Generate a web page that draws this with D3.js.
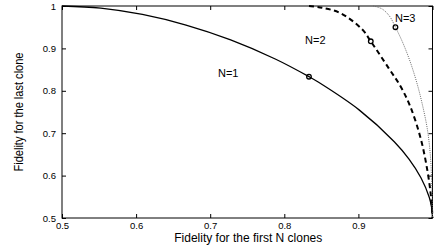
<!DOCTYPE html>
<meta charset="utf-8">
<style>
  body { margin: 0; background: #fff; }
  text { font-family: "Liberation Sans", Arial, sans-serif; fill: #000; }
</style>
<body>
<svg width="436" height="245"></svg>
<script src="https://d3js.org/d3.v7.min.js"></script>
<script>
  // values: [fidelity first N clones, fidelity last clone]
  var curveN1 = [[0.5, 1], [0.5523, 0.995], [0.6085, 0.98], [0.6674, 0.955], [0.7276, 0.92],
    [0.7878, 0.875], [0.8333, 0.8333], [0.8463, 0.82], [0.9009, 0.755], [0.9484, 0.68],
    [0.9683, 0.639], [0.9844, 0.595], [0.9956, 0.549], [0.9988, 0.525], [1, 0.5]];
  var curveN2 = [[0.8333, 1], [0.851, 0.996], [0.876, 0.983], [0.905, 0.945], [0.9167, 0.9167],
    [0.941, 0.853], [0.957, 0.81], [0.97, 0.763], [0.984, 0.688], [0.993, 0.613],
    [0.998, 0.55], [1, 0.5]];
  var curveN3 = [[0.92, 1], [0.932, 0.993], [0.942, 0.976], [0.95, 0.95], [0.96, 0.913],
    [0.97, 0.868], [0.979, 0.818], [0.986, 0.77], [0.993, 0.71], [0.997, 0.65],
    [0.999, 0.58], [1, 0.5]];
  var symPoints = [[0.8333, 0.8333], [0.9167, 0.9167], [0.95, 0.95]];
  var curveLabels = ['N=1', 'N=2', 'N=3'];
  var labelPos = [[0.7105, 0.832], [0.828, 0.91], [0.9494, 0.962]];
  var xTicks = [0.5, 0.6, 0.7, 0.8, 0.9, 1];
  var yTicks = [0.5, 0.6, 0.7, 0.8, 0.9, 1];

  var svg = d3.select('svg');
  // plot box (note: "top" is taken by window.top)
  var boxL = 62, boxR = 432.5, boxT = 6, boxB = 218;

  var x = d3.scaleLinear().domain([0.5, 1]).range([boxL, boxR]);
  var y = d3.scaleLinear().domain([0.5, 1]).range([boxB, boxT]);

  // axes, ticks pointing inwards on all four sides
  var fmt = function (d) { return d === 1 ? '1' : d3.format('.1f')(d); };
  var axFont = function (g) {
    g.select('.domain').remove();
    g.selectAll('line').attr('stroke', '#000');
    g.selectAll('text').style('font-size', '9.5px').style('font-family', '"Liberation Sans", Arial, sans-serif');
  };

  svg.append('g')
    .attr('transform', 'translate(0,' + boxB + ')')
    .call(d3.axisBottom(x).tickValues(xTicks.slice(0, 5)).tickSize(-4).tickPadding(4).tickFormat(fmt))
    .call(axFont);
  svg.append('g')
    .attr('transform', 'translate(0,' + boxT + ')')
    .call(d3.axisTop(x).tickValues(xTicks).tickSize(-4).tickFormat(''))
    .call(axFont);
  svg.append('g')
    .attr('transform', 'translate(' + boxL + ',0)')
    .call(d3.axisLeft(y).tickValues(yTicks).tickSize(-4).tickPadding(6).tickFormat(fmt))
    .call(axFont);
  svg.append('g')
    .attr('transform', 'translate(' + boxR + ',0)')
    .call(d3.axisRight(y).tickValues(yTicks).tickSize(-4).tickFormat(''))
    .call(axFont);

  svg.append('rect')
    .attr('x', boxL).attr('y', boxT)
    .attr('width', boxR - boxL).attr('height', boxB - boxT)
    .attr('fill', 'none')
    .attr('stroke', '#000')
    .attr('stroke-width', 1);

  // curves
  var line = d3.line()
    .curve(d3.curveCatmullRom.alpha(0.5))
    .x(function (d) { return x(d[0]); })
    .y(function (d) { return y(d[1]); });

  svg.append('path').datum(curveN1)
    .attr('d', line).attr('fill', 'none')
    .attr('stroke', '#000').attr('stroke-width', 1.3);
  svg.append('path').datum(curveN2)
    .attr('d', line).attr('fill', 'none')
    .attr('stroke', '#000').attr('stroke-width', 2)
    .attr('stroke-dasharray', '5,3.5');
  svg.append('path').datum(curveN3)
    .attr('d', line).attr('fill', 'none')
    .attr('stroke', '#666').attr('stroke-width', 1)
    .attr('stroke-dasharray', '1,1.2');

  svg.selectAll('.sym').data(symPoints).enter()
    .append('circle')
    .attr('cx', function (d) { return x(d[0]); })
    .attr('cy', function (d) { return y(d[1]); })
    .attr('r', 2.3)
    .attr('fill', 'none')
    .attr('stroke', '#000')
    .attr('stroke-width', 1.3);

  svg.selectAll('.lab').data(curveLabels).enter()
    .append('text')
    .attr('x', function (d, i) { return x(labelPos[i][0]); })
    .attr('y', function (d, i) { return y(labelPos[i][1]); })
    .style('font-size', '11px')
    .text(function (d) { return d; });

  // axis titles
  svg.append('text')
    .attr('x', (boxL + boxR) / 2 + 1)
    .attr('y', 242)
    .attr('text-anchor', 'middle')
    .style('font-size', '12px')
    .text('Fidelity for the first N clones');

  svg.append('text')
    .attr('transform', 'translate(23,112) rotate(-90)')
    .attr('text-anchor', 'middle')
    .attr('textLength', 119)
    .attr('lengthAdjust', 'spacingAndGlyphs')
    .style('font-size', '12.5px')
    .text('Fidelity for the last clone');
</script>
</body>
